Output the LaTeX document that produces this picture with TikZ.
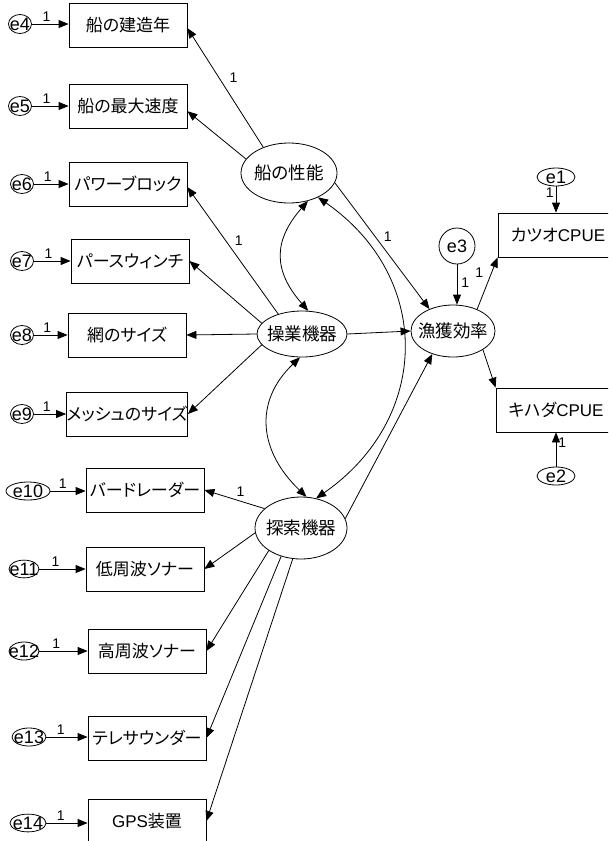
\documentclass[tikz,border=0pt]{standalone}
\usepackage{fontspec}
\setmainfont{Liberation Sans}
\newfontfamily\jp[RawFeature=+palt]{Noto Sans CJK JP}
\usepackage{tikz}
\newcommand{\boxwidth}{118pt}
\newcommand{\boxheight}{44pt}
\newcommand{\nowidth}[1]{\makebox[0pt]{#1}}
\usetikzlibrary{shapes.geometric}
\usetikzlibrary{arrows.meta}
\tikzstyle{observed}=[draw, rectangle, inner sep=0, minimum width=\boxwidth, minimum height=\boxheight,
                      font=\jp\fontsize{17pt}{20pt}\selectfont]
\tikzstyle{latent}=[draw, ellipse, inner sep=0, font=\jp\fontsize{17.5pt}{20pt}\selectfont]
\tikzstyle{errvar}=[draw, ellipse, inner sep=0, minimum width=23pt, minimum height=19pt,
                    font=\fontsize{18pt}{21pt}\selectfont]
\tikzstyle{coef}=[inner sep=2pt, font=\fontsize{14pt}{16pt}\selectfont]
\tikzstyle{regr}=[-{Triangle[length=10pt, width=8pt]}]
\tikzstyle{cov}=[{Triangle[length=10pt, width=8pt]}-{Triangle[length=10pt, width=8pt]}]
\tikzstyle{sem}=[x=1pt, y=-1pt, line width=0.8pt]

\begin{document}
\begin{tikzpicture}[sem]
        \useasboundingbox (0, 0) rectangle (608, 841);
        \clip (0, 0) rectangle (608, 841);
        % observed variables
        \node[observed] (build) at (128, 25) {船の建造年};
        \node[observed] (speed) at (128, 106) {船の最大速度};
        \node[observed] (block) at (128, 184) {パワーブロック};
        \node[observed] (winch) at (130, 261) {パースウィンチ};
        \node[observed] (net) at (127, 335) {網のサイズ};
        \node[observed] (mesh) at (127, 414) {メッシュのサイズ};
        \node[observed] (radar) at (145, 490) {バードレーダー};
        \node[observed] (lowsonar) at (145, 569) {低周波ソナー};
        \node[observed] (highsonar) at (147, 651) {高周波ソナー};
        \node[observed] (sounder) at (147, 738) {テレサウンダー};
        \node[observed] (gps) at (147, 821) {{\rmfamily GPS}装置};
        \node[observed, minimum width=120pt] (katsuo) at (558, 235) {カツオ{\rmfamily CPUE}};
        \node[observed, minimum width=120pt] (kihada) at (556, 410) {キハダ{\rmfamily CPUE}};
        % latent variables
        \node[latent, minimum width=96pt, minimum height=60pt] (perf) at (289, 173) {\nowidth{船の性能}};
        \node[latent, minimum width=90pt, minimum height=46pt] (oper) at (302, 334) {\nowidth{操業機器}};
        \node[latent, minimum width=84pt, minimum height=52pt] (eff) at (453, 331) {\nowidth{漁獲効率}};
        \node[latent, minimum width=92pt, minimum height=62pt] (srch) at (301, 528) {\nowidth{探索機器}};
        % errors
        \node[errvar, minimum width=38pt, minimum height=18pt] (e1) at (556, 177) {\nowidth{e1}};
        \node[errvar, minimum width=38pt, minimum height=18pt] (e2) at (556, 476) {\nowidth{e2}};
        \node[errvar, minimum width=36pt, minimum height=36pt] (e3) at (457, 246) {\nowidth{e3}};
        \node[errvar] (e4) at (20, 24) {\nowidth{e4}};
        \node[errvar] (e5) at (20, 106) {\nowidth{e5}};
        \node[errvar] (e6) at (22, 184) {\nowidth{e6}};
        \node[errvar] (e7) at (22, 261) {\nowidth{e7}};
        \node[errvar] (e8) at (22, 335) {\nowidth{e8}};
        \node[errvar] (e9) at (22, 414) {\nowidth{e9}};
        \node[errvar, minimum width=44pt, minimum height=17pt] (e10) at (28, 491) {\nowidth{e10}};
        \node[errvar, minimum width=30pt, minimum height=16pt] (e11) at (24, 569) {\nowidth{e11}};
        \node[errvar, minimum width=30pt, minimum height=15pt] (e12) at (24, 651) {\nowidth{e12}};
        \node[errvar, minimum width=34pt, minimum height=15pt] (e13) at (29, 737) {\nowidth{e13}};
        \node[errvar, minimum width=36pt, minimum height=15pt] (e14) at (28, 823) {\nowidth{e14}};
        % error paths
        \draw[regr] (e4) -- (e4 -| build.west) node[coef, pos=0.4, above] {1};
        \draw[regr] (e5) -- (e5 -| speed.west) node[coef, pos=0.4, above] {1};
        \draw[regr] (e6) -- (e6 -| block.west) node[coef, pos=0.4, above] {1};
        \draw[regr] (e7) -- (e7 -| winch.west) node[coef, pos=0.4, above] {1};
        \draw[regr] (e8) -- (e8 -| net.west) node[coef, pos=0.4, above] {1};
        \draw[regr] (e9) -- (e9 -| mesh.west) node[coef, pos=0.4, above] {1};
        \draw[regr] (e10) -- (e10 -| radar.west) node[coef, pos=0.35, above] {1};
        \draw[regr] (e11) -- (e11 -| lowsonar.west) node[coef, pos=0.35, above] {1};
        \draw[regr] (e12) -- (e12 -| highsonar.west) node[coef, pos=0.35, above] {1};
        \draw[regr] (e13) -- (e13 -| sounder.west) node[coef, pos=0.35, above] {1};
        \draw[regr] (e14) -- (e14 -| gps.west) node[coef, pos=0.35, above] {1};
        \draw[regr] (e3) -- (e3 |- eff.north) node[coef, pos=0.45, right=2pt] {1};
        \draw[regr] (e1) -- (e1 |- katsuo.north) node[coef, pos=0.25, left] {1};
        \draw[regr] (e2) -- (e2 |- kihada.south) node[coef, pos=0.7, right] {1};
        % loadings
        \draw[regr] (perf.135) -- (build.-3) node[coef, pos=0.58, right=8pt] {1};
        \draw[regr] (perf.162) -- (speed.-5);
        \draw[regr] (oper.140) -- (block.-3) node[coef, pos=0.58, right=7pt] {1};
        \draw[regr] (oper.165) -- (winch.east);
        \draw[regr] (oper.west) -- (net.east);
        \draw[regr] (oper.195) -- (mesh.east);
        \draw[regr] (srch.152) -- (radar.east) node[coef, pos=0.4, above=2pt] {1};
        \draw[regr] (srch.186) -- (lowsonar.east);
        \draw[regr] (srch.215) -- (highsonar.east);
        \draw[regr] (srch.235) -- (sounder.east);
        \draw[regr] (srch.255) -- (gps.east);
        % structural paths
        \draw[regr] (perf.-12) -- (eff.137) node[coef, pos=0.43, right=6pt] {1};
        \draw[regr] (oper.east) -- (eff.west);
        \draw[regr] (srch.12) -- (eff.228);
        \draw[regr] (eff.42) -- (katsuo.south west) node[coef, pos=0.7, left=6pt] {1};
        \draw[regr] (eff.-32) -- (kihada.north west);
        % covariances
        \draw[cov] (perf.-56) .. controls +(-35, 40) and +(-35, -40) .. (oper.75);
        \draw[cov] (oper.-95) .. controls +(-47, 45) and +(-47, -45) .. (srch.80);
        \draw[cov] (perf.-40) .. controls +(115, 80) and +(115, -80) .. (srch.63);
\end{tikzpicture}
\end{document}
